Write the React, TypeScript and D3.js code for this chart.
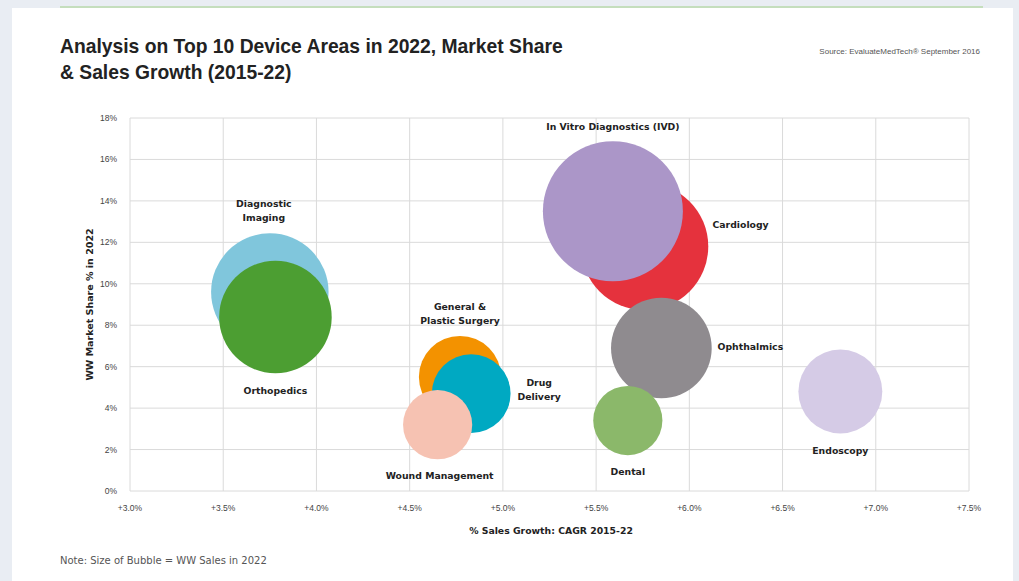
import React from "react";
import * as d3 from "d3";

const areas = [
  "Diagnostic Imaging",
  "Orthopedics",
  "General & Plastic Surgery",
  "Drug Delivery",
  "Wound Management",
  "Cardiology",
  "In Vitro Diagnostics (IVD)",
  "Ophthalmics",
  "Dental",
  "Endoscopy",
];
const growth = [3.75, 3.78, 4.77, 4.83, 4.65, 5.76, 5.59, 5.85, 5.67, 6.81];
const share = [9.6, 8.4, 5.5, 4.7, 3.2, 11.8, 13.5, 6.9, 3.4, 4.8];
const sales = [49, 45, 24, 22, 17, 57.6, 69.6, 36, 17, 25];
const colors = [
  "#80c6dc",
  "#4c9e32",
  "#f39200",
  "#00a9c2",
  "#f6c2b2",
  "#e5323d",
  "#ab96c8",
  "#8f8b8f",
  "#8bb86a",
  "#d5cbe6",
];
const labelLines = [
  ["Diagnostic", "Imaging"],
  ["Orthopedics"],
  ["General &", "Plastic Surgery"],
  ["Drug", "Delivery"],
  ["Wound Management"],
  ["Cardiology"],
  ["In Vitro Diagnostics (IVD)"],
  ["Ophthalmics"],
  ["Dental"],
  ["Endoscopy"],
];
// label placement relative to bubble: [dx, dy] in px
const labelOffsets = [
  [-6, -85],
  [0, 77],
  [0, -67],
  [68, -8],
  [2, 54],
  [96, -18],
  [0, -81],
  [89, 2],
  [0, 54],
  [0, 62],
];
const xTicks = [3.0, 3.5, 4.0, 4.5, 5.0, 5.5, 6.0, 6.5, 7.0, 7.5];
const yTicks = [0, 2, 4, 6, 8, 10, 12, 14, 16, 18];

const W = 1019;
const H = 581;
const M = { left: 130, right: 969, top: 118, bottom: 491 };

export default function App() {
  const x = d3.scaleLinear().domain([3, 7.5]).range([M.left, M.right]);
  const y = d3.scaleLinear().domain([0, 18]).range([M.bottom, M.top]);
  const r = d3.scaleSqrt().domain([0, 69.6]).range([0, 70]);
  const font = "'Liberation Sans', Arial, sans-serif";
  const wide = "'DejaVu Sans', sans-serif";

  return (
    <svg
      width={W}
      height={H}
      style={{ position: "absolute", left: 0, top: 0, display: "block" }}
      fontFamily={font}
    >
      <rect x={0} y={0} width={W} height={H} fill="#e9edf3" />
      <rect x={12} y={8} width={1001} height={H - 8} fill="#ffffff" />
      <line x1={60} x2={983} y1={7} y2={7} stroke="#b8d8ab" strokeWidth={1.5} />

      <text x={60} y={53} fontSize={19.3} fontWeight="bold" fill="#222">
        Analysis on Top 10 Device Areas in 2022, Market Share
      </text>
      <text x={60} y={79} fontSize={19.3} fontWeight="bold" fill="#222">
        & Sales Growth (2015-22)
      </text>
      <text x={980} y={54} fontSize={8} textAnchor="end" fill="#555">
        Source: EvaluateMedTech® September 2016
      </text>

      {/* grid */}
      {yTicks.map((t) => (
        <g key={"y" + t}>
          <line x1={M.left} x2={M.right} y1={y(t)} y2={y(t)} stroke="#dadada" strokeWidth={1} />
          <text x={117} y={y(t) + 3} fontSize={8.5} textAnchor="end" fill="#444">
            {t}%
          </text>
        </g>
      ))}
      {xTicks.map((t) => (
        <g key={"x" + t}>
          <line x1={x(t)} x2={x(t)} y1={M.top} y2={M.bottom} stroke="#dadada" strokeWidth={1} />
          <text x={x(t)} y={511} fontSize={8.5} textAnchor="middle" fill="#444">
            +{t.toFixed(1)}%
          </text>
        </g>
      ))}

      {/* bubbles */}
      {areas.map((a, i) => (
        <circle key={a} cx={x(growth[i])} cy={y(share[i])} r={r(sales[i])} fill={colors[i]} />
      ))}

      {/* labels */}
      {areas.map((a, i) => {
        const cx = x(growth[i]) + labelOffsets[i][0];
        const cy = y(share[i]) + labelOffsets[i][1];
        return (
          <text
            key={"l" + a}
            fontFamily={wide}
            fontSize={9.3}
            fontWeight="bold"
            textAnchor="middle"
            fill="#222"
          >
            {labelLines[i].map((ln, j) => (
              <tspan key={j} x={cx} y={cy + j * 14}>
                {ln}
              </tspan>
            ))}
          </text>
        );
      })}

      <text
        transform={`translate(93,${(M.top + M.bottom) / 2}) rotate(-90)`}
        fontFamily={wide}
        fontSize={9.5}
        fontWeight="bold"
        textAnchor="middle"
        fill="#222"
      >
        WW Market Share % in 2022
      </text>
      <text
        x={551}
        y={534}
        fontFamily={wide}
        fontSize={9.3}
        fontWeight="bold"
        textAnchor="middle"
        fill="#222"
      >
        % Sales Growth: CAGR 2015-22
      </text>
      <text x={60} y={564} fontFamily={wide} fontSize={10} fill="#555">
        Note: Size of Bubble = WW Sales in 2022
      </text>
    </svg>
  );
}
